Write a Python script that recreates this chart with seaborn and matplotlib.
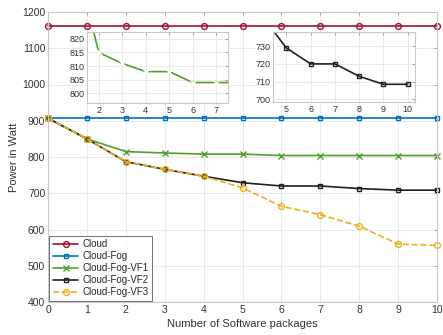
import pandas as pd
import seaborn as sns
from matplotlib import pyplot as plt

packages = [0, 1, 2, 3, 4, 5, 6, 7, 8, 9, 10]
cloud = [1161] * 11
cloud_fog = [907] * 11
vf1 = [907, 850, 815, 811, 808, 808, 804, 804, 804, 804, 804]
vf2 = [907, 850, 787, 766, 747, 729, 720, 720, 713, 708.5, 708.5]
vf3 = [907, 850, 787, 766, 747, 715, 664, 641, 609, 560, 556]

series = ["Cloud", "Cloud-Fog", "Cloud-Fog-VF1", "Cloud-Fog-VF2", "Cloud-Fog-VF3"]
values = [cloud, cloud_fog, vf1, vf2, vf3]
colors = ["#A2142F", "#0072BD", "#4FA02E", "#202020", "#EDB120"]
markers = ["o", "s", "x", "s", "o"]
dashes = ["-", "-", "-", "-", "--"]

sns.set_style("whitegrid")
plt.rcParams["font.family"] = ["Liberation Sans", "DejaVu Sans"]

df = pd.DataFrame({"x": packages})
for name, v in zip(series, values):
    df[name] = v

fig = plt.figure(figsize=(4.43, 3.35), dpi=100)
ax = fig.add_axes([48 / 443, 33 / 335, 389 / 443, 290 / 335])


def style_axes(a, fs):
    a.grid(True, color="#e6e6e6", linewidth=0.6)
    for s in a.spines.values():
        s.set_color("#c8c8c8")
        s.set_linewidth(0.8)
    a.tick_params(direction="in", length=2.5, width=0.6, color="#9a9a9a",
                  labelsize=fs, labelcolor="#333333", top=True, right=True, pad=2)
    a.set_xlabel(None)
    a.set_ylabel(None)


for name, c, m, ls in zip(series, colors, markers, dashes):
    sns.lineplot(data=df, x="x", y=name, ax=ax, color=c, marker=m, linestyle=ls,
                 markersize=4.2 if m != "s" else 3.5, markerfacecolor="none",
                 markeredgecolor=c, markeredgewidth=1.0, linewidth=1.2,
                 label=name, clip_on=False)

style_axes(ax, 7.5)
ax.set_xlim(0, 10)
ax.set_ylim(400, 1200)
ax.set_xticks(packages)
ax.set_yticks(range(400, 1201, 100))
ax.set_xlabel("Number of Software packages", fontsize=8, color="#333333", labelpad=3)
ax.set_ylabel("Power in Watt", fontsize=8, color="#333333", labelpad=2)
leg = ax.legend(loc="lower left", fontsize=7, frameon=True, fancybox=False,
                borderaxespad=0.15, handlelength=2.6, handletextpad=0.4,
                labelspacing=0.2, borderpad=0.35)
leg.get_frame().set_edgecolor("#333333")
leg.get_frame().set_linewidth(0.6)

# inset 1: VF1 zoom
ax1 = fig.add_axes([87 / 443, 232 / 335, 141 / 443, 71 / 335])
sns.lineplot(data=df, x="x", y="Cloud-Fog-VF1", ax=ax1, color=colors[2], marker="x",
             markersize=4, markeredgewidth=1.0, linewidth=1.2)
style_axes(ax1, 6.5)
ax1.set_xlim(1.5, 7.5)
ax1.set_ylim(796.5, 822.5)
ax1.set_xticks([2, 3, 4, 5, 6, 7])
ax1.set_yticks([800, 805, 810, 815, 820])

# inset 2: VF2 zoom
ax2 = fig.add_axes([273 / 443, 233 / 335, 142 / 443, 70 / 335])
sns.lineplot(data=df, x="x", y="Cloud-Fog-VF2", ax=ax2, color=colors[3], marker="s",
             markersize=3.5, markerfacecolor="none", markeredgecolor=colors[3],
             markeredgewidth=1.0, linewidth=1.2)
style_axes(ax2, 6.5)
ax2.set_xlim(4.45, 10.3)
ax2.set_ylim(698.5, 738)
ax2.set_xticks([5, 6, 7, 8, 9, 10])
ax2.set_yticks([700, 710, 720, 730])

fig.savefig("out.png", dpi=100)
